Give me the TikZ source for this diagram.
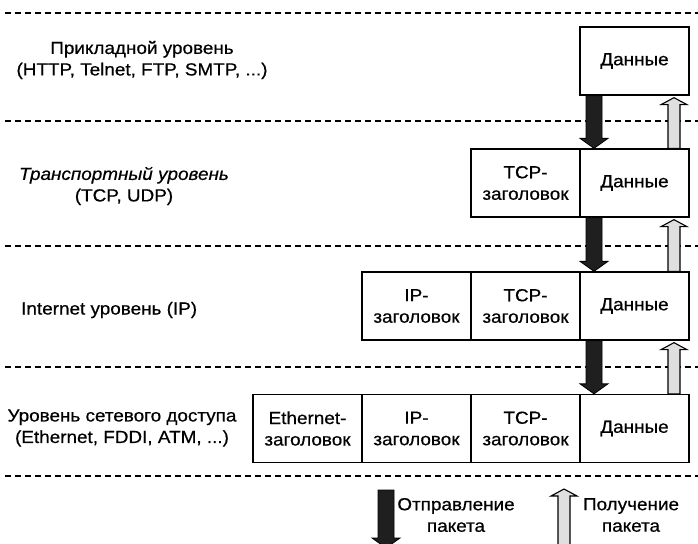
\documentclass[tikz,border=0pt]{standalone}
\usepackage{fontspec}
\setmainfont[FakeStretch=1.08,FakeBold=0.6]{Liberation Sans}
\usetikzlibrary{calc}
\newcommand{\sendarrow}[2]{%
  \filldraw[sendst] ($(#1)+(-8,0)$) -- ($(#2)+(-8,-10)$) -- ($(#2)+(-14,-10)$) -- (#2) -- ($(#2)+(14,-10)$) -- ($(#2)+(8,-10)$) -- ($(#1)+(8,0)$) -- cycle;}
\newcommand{\recvarrow}[2]{%
  \filldraw[recvst] ($(#1)+(-6,0)$) -- ($(#2)+(-6,7)$) -- ($(#2)+(-13,7)$) -- (#2) -- ($(#2)+(13,7)$) -- ($(#2)+(6,7)$) -- ($(#1)+(6,0)$) -- cycle;}
\begin{document}
\begin{tikzpicture}[x=1pt,y=-1pt,
  every node/.style={font=\fontsize{17.5}{21.5}\selectfont},
  cell/.style={draw, line width=1.3pt, minimum width=109pt, minimum height=68pt, inner sep=0pt, align=center, fill=white},
  sep/.style={line width=1.3pt, dash pattern=on 6pt off 4pt},
  sendst/.style={fill=black!88, draw=black, line width=0.8pt},
  recvst/.style={fill=gray!25, draw=black, line width=1.1pt},
  lbl/.style={align=center, inner sep=0pt}]
\useasboundingbox (0,0) rectangle (698,543);
% separators
\foreach \yy in {13,121,246,367,476} \draw[sep] (5,\yy) -- (698,\yy);
% left labels
\node[lbl] (l1) at (142,60) {Прикладной уровень\\(HTTP, Telnet, FTP, SMTP, ...)};
\node[lbl] (l2) at (124,186) {\textit{Транспортный уровень}\\(TCP, UDP)};
\node[lbl, anchor=west] (l3) at (21,310) {Internet уровень (IP)};
\node[lbl] (l4) at (122,428) {Уровень сетевого доступа\\(Ethernet, FDDI, ATM, ...)};
% row 1
\node[cell] (d1) at (634.5,61) {Данные};
% row 2
\node[cell] (d2) at (634.5,183) {Данные};
\node[cell] (t2) at (525.5,183) {TCP-\\заголовок};
% row 3
\node[cell] (d3) at (634.5,306) {Данные};
\node[cell] (t3) at (525.5,306) {TCP-\\заголовок};
\node[cell] (i3) at (416.5,306) {IP-\\заголовок};
% row 4
\node[cell] (d4) at (634.5,428.5) {Данные};
\node[cell] (t4) at (525.5,428.5) {TCP-\\заголовок};
\node[cell] (i4) at (416.5,428.5) {IP-\\заголовок};
\node[cell] (e4) at (307.5,428.5) {Ethernet-\\заголовок};
% connector anchor points
\foreach \a/\b in {d1/d2,d2/d3,d3/d4}{
  \coordinate (\a s) at ($(\a.south)+(-40.5,0)$);
  \coordinate (\b n) at ($(\b.north)+(-40.5,0)$);
  \coordinate (\a r) at ($(\a.south)+(39.5,2)$);
  \coordinate (\b m) at ($(\b.north)+(39.5,0)$);
}
\sendarrow{d1s}{d2n}
\sendarrow{d2s}{d3n}
\sendarrow{d3s}{d4n}
\recvarrow{d2m}{d1r}
\recvarrow{d3m}{d2r}
\recvarrow{d4m}{d3r}
% legend
\coordinate (ls1) at (386,490);
\coordinate (ls2) at (386,548);
\sendarrow{ls1}{ls2}
\coordinate (lr1) at (564,560);
\coordinate (lr2) at (564,489);
\recvarrow{lr1}{lr2}
\node[lbl] (tsend) at (456,515) {Отправление\\пакета};
\node[lbl] (trecv) at (631,515) {Получение\\пакета};
\end{tikzpicture}
\end{document}
